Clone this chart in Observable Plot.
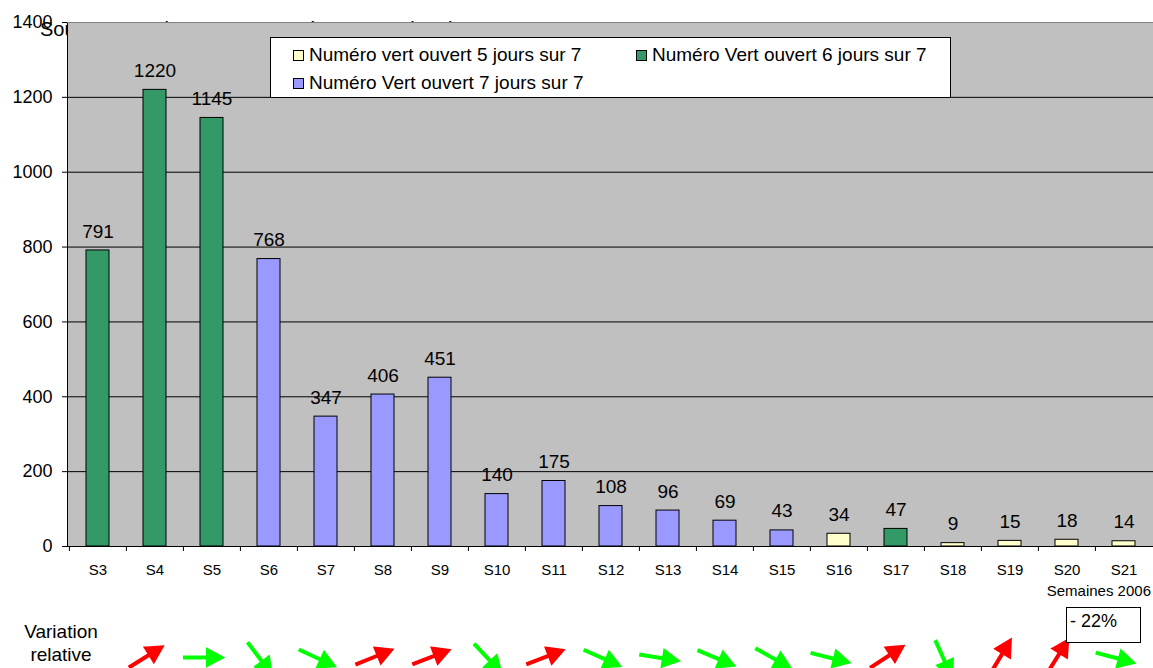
<!DOCTYPE html>
<html>
<head>
<meta charset="utf-8">
<script src="https://cdn.jsdelivr.net/npm/d3@7"></script>
<script src="https://cdn.jsdelivr.net/npm/@observablehq/plot@0.6"></script>
<style>
  body { margin: 0; background: #fff; font-family: "Liberation Sans", Arial, sans-serif; color: #000; }
  #wrap { position: relative; width: 1153px; height: 668px; overflow: hidden; }
  #title { position: absolute; left: 40px; top: 18px; font-size: 20px; white-space: nowrap; z-index: 0; line-height: 22px; }
  #chart { position: absolute; left: 0; top: 0; z-index: 1; }
  #legend { position: absolute; left: 270px; top: 37px; width: 679px; height: 59px; background: #fff; border: 1px solid #000; z-index: 2; font-size: 19px; }
  .item { position: absolute; display: flex; align-items: center; white-space: nowrap; line-height: 20px; }
  .sw { width: 9px; height: 9px; border: 1px solid #000; margin-right: 5px; }
  #variation { position: absolute; left: 0; top: 620px; width: 122px; text-align: center; font-size: 19px; line-height: 23px; z-index: 2; }
  #xlabel { position: absolute; right: 2px; top: 582px; font-size: 15px; line-height: 18px; z-index: 2; }
  #total { position: absolute; left: 1066px; top: 607px; width: 70px; height: 34px; border: 1px solid #000; padding-left: 3px; font-size: 18px; line-height: 26px; background: #fff; z-index: 2; }
</style>
</head>
<body>
<div id="wrap">
  <div id="title">Source : appels reçus au numéro vert – Direction</div>
  <div id="chart"></div>
  <div id="legend"></div>
  <div id="variation">Variation<br>relative</div>
  <div id="xlabel"></div>
  <div id="total"></div>
</div>
<script>
// ---- Data ----
const weeks = ["S3","S4","S5","S6","S7","S8","S9","S10","S11","S12","S13","S14","S15","S16","S17","S18","S19","S20","S21"];
const calls = [791,1220,1145,768,347,406,451,140,175,108,96,69,43,34,47,9,15,18,14];
const serviceIndex = [1,1,1,2,2,2,2,2,2,2,2,2,2,0,1,0,0,0,0];
const seriesNames = ["Numéro vert ouvert 5 jours sur 7","Numéro Vert ouvert 6 jours sur 7","Numéro Vert ouvert 7 jours sur 7"];
const seriesColors = ["#FFFFCC","#339966","#9999FF"];
const yTicks = [0,200,400,600,800,1000,1200,1400];
// angle (degrees above horizontal) of the hand-drawn arrow for each week-to-week change, S3→S4 … S20→S21
const arrowAngles = [32,0,-53,-25,22,21,-47,21,-24,-9,-23,-29,-14,33,-66,59,58,-15];
const xTitle = "Semaines 2006";
const totalChange = "- 22%";

// ---- Build tables ----
const rows = weeks.map((w, i) => ({week: w, calls: calls[i], service: seriesNames[serviceIndex[i]]}));
const arrows = weeks.slice(1).map((w, i) => ({week: w, angle: arrowAngles[i], up: calls[i + 1] > calls[i]}));

const W = 1153, H = 668, mL = 67, mT = 22, mR = 0, mB = 122;
const step = (W - mL - mR) / weeks.length;

const arrowShape = {
  draw(context, l) {
    const hl = 13, hw = 7;
    context.moveTo(0, 0);
    context.lineTo(0, -(l - hl));
    context.moveTo(-hw, -(l - hl));
    context.lineTo(0, -l);
    context.lineTo(hw, -(l - hl));
    context.closePath();
  }
};

const arrowOpts = (color) => ({
  x: "week", y: () => 0, rotate: d => 90 - d.angle, length: 38, anchor: "middle",
  stroke: color, fill: color, strokeWidth: 4, strokeLinejoin: "miter", strokeLinecap: "butt",
  shape: arrowShape, dx: -10, dy: 111
});

const chart = Plot.plot({
  width: W, height: H,
  marginLeft: mL, marginTop: mT, marginRight: mR, marginBottom: mB,
  style: {background: "transparent", fontFamily: "'Liberation Sans', Arial, sans-serif", color: "black", overflow: "visible"},
  x: {domain: weeks, paddingInner: 0.6, paddingOuter: 0.3, axis: null, label: null},
  y: {domain: [0, 1400], axis: null, label: null},
  color: {domain: seriesNames, range: seriesColors},
  marks: [
    Plot.frame({fill: "#C0C0C0", stroke: "black", insetRight: -2}),
    Plot.ruleY(yTicks.slice(1, -1), {stroke: "black", strokeWidth: 1}),
    Plot.ruleY([1400], {stroke: "#808080", strokeWidth: 1}),
    Plot.ruleY([0], {stroke: "black", strokeWidth: 1}),
    Plot.barY(rows, {x: "week", y: "calls", fill: "service", stroke: "black", strokeWidth: 1}),
    Plot.text(rows, {x: "week", y: "calls", text: d => String(d.calls), dy: -19, fontSize: 19, fill: "black"}),
    Plot.axisY({ticks: yTicks, tickSize: 5, tickPadding: 10, fontSize: 18, tickFormat: d => String(d), label: null}),
    Plot.axisX({tickSize: 0, tickPadding: 18, fontSize: 15, label: null}),
    Plot.ruleX(weeks, {x: d => d, y1: () => 0, y2: () => 0, insetBottom: -5, dx: -step / 2, stroke: "black"}),
    Plot.vector(arrows.filter(d => d.up), arrowOpts("#FF0000")),
    Plot.vector(arrows.filter(d => !d.up), arrowOpts("#00FF00"))
  ]
});
document.getElementById("chart").appendChild(chart);

// ---- Legend (HTML) ----
const legend = document.getElementById("legend");
const legendPos = [[22, 7], [365, 7], [22, 35]]; // order: 5j, 6j, 7j
seriesNames.forEach((name, i) => {
  const it = document.createElement("div");
  it.className = "item";
  it.style.left = legendPos[i][0] + "px";
  it.style.top = legendPos[i][1] + "px";
  const sw = document.createElement("div");
  sw.className = "sw";
  sw.style.background = seriesColors[i];
  const tx = document.createElement("span");
  tx.textContent = name;
  it.appendChild(sw); it.appendChild(tx);
  legend.appendChild(it);
});
document.getElementById("xlabel").textContent = xTitle;
document.getElementById("total").textContent = totalChange;
</script>
</body>
</html>
